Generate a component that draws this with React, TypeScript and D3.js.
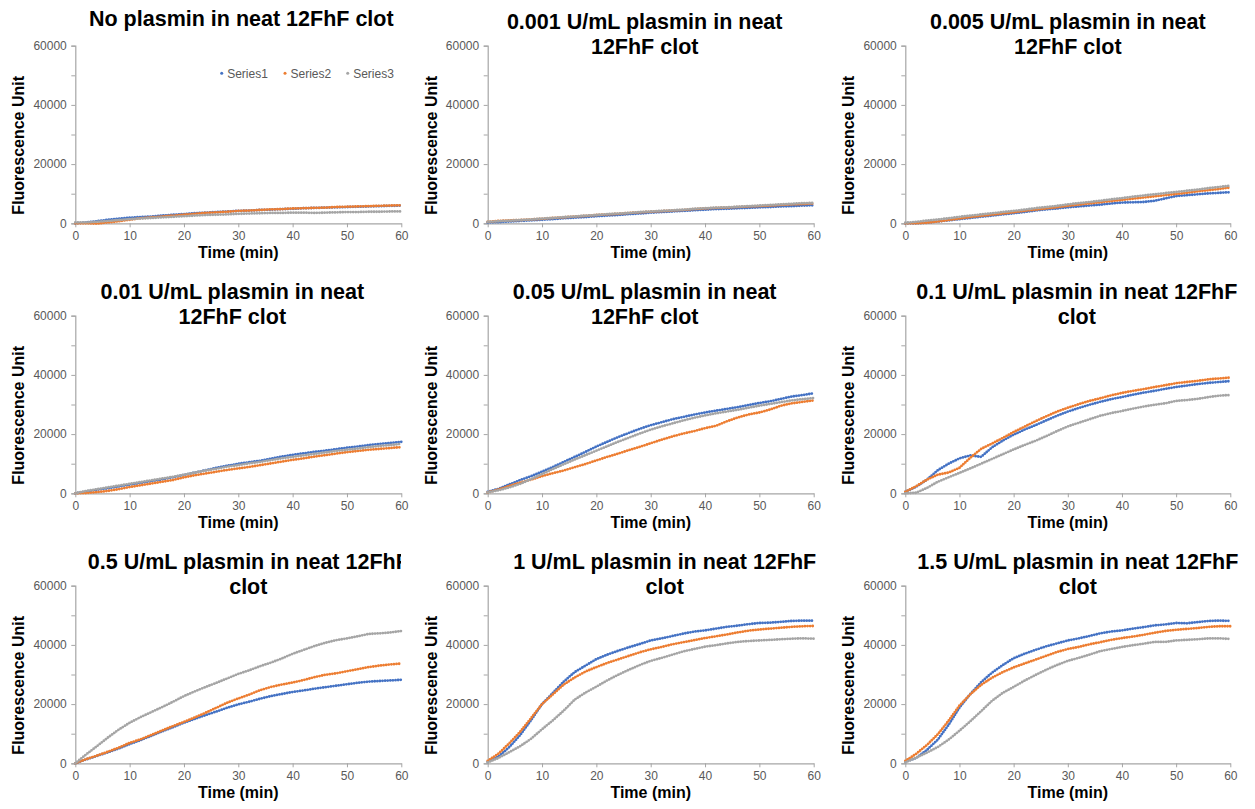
import React, { useEffect, useRef } from "react";
import * as d3 from "d3";

// sampling times (min)
const timeMin = [0, 2, 4, 6, 8, 10, 12, 14, 16, 18, 20, 22, 24, 26, 28, 30, 32, 34, 36, 38, 40, 42, 44, 46, 48, 50, 52, 54, 56, 58, 60];

const seriesNames = ["Series1", "Series2", "Series3"];
const seriesColors = ["#4472C4", "#ED7D31", "#A5A5A5"];
const xTicks = [0, 10, 20, 30, 40, 50, 60];
const yTicks = [0, 10000, 20000, 30000, 40000, 50000, 60000];
const yLabels = [0, 20000, 40000, 60000];

// fluorescence readings, [Series1, Series2, Series3] per condition
const noPlasmin = [
  [0, 300, 700, 1200, 1600, 1900, 2100, 2300, 2600, 2900, 3100, 3400, 3600, 3800, 4000, 4200, 4300, 4500, 4600, 4800, 4900, 5100, 5200, 5300, 5400, 5500, 5600, 5700, 5800, 5900, 6000],
  [0, 0, -100, 300, 700, 1200, 1700, 2000, 2300, 2600, 2900, 3200, 3500, 3700, 3900, 4200, 4300, 4500, 4700, 4800, 5000, 5100, 5200, 5300, 5500, 5600, 5700, 5800, 5900, 6000, 6100],
  [300, 300, 500, 800, 1100, 1400, 1600, 1800, 2000, 2200, 2400, 2600, 2800, 2900, 3000, 3200, 3300, 3400, 3500, 3500, 3600, 3600, 3500, 3600, 3700, 3800, 3800, 3900, 3900, 4000, 4000],
];
const plasmin0001 = [
  [300, 400, 600, 800, 1000, 1200, 1400, 1700, 1900, 2100, 2400, 2600, 2800, 3100, 3300, 3600, 3800, 4000, 4200, 4400, 4600, 4800, 4900, 5100, 5200, 5400, 5500, 5700, 5800, 6000, 6100],
  [500, 800, 1000, 1100, 1300, 1500, 1800, 2000, 2300, 2500, 2800, 3000, 3200, 3500, 3700, 3900, 4100, 4300, 4500, 4800, 5000, 5200, 5300, 5500, 5700, 5800, 6000, 6200, 6400, 6500, 6700],
  [500, 700, 900, 1100, 1300, 1600, 1800, 2100, 2300, 2600, 2800, 3100, 3300, 3500, 3800, 4000, 4200, 4400, 4600, 4900, 5100, 5300, 5400, 5600, 5800, 6000, 6200, 6400, 6600, 6800, 6900],
];
const plasmin0005 = [
  [0, 0, 200, 600, 1000, 1400, 1800, 2200, 2600, 3000, 3400, 3800, 4300, 4700, 5000, 5400, 5700, 6000, 6300, 6700, 7000, 7100, 7200, 7600, 8400, 9200, 9500, 9800, 10100, 10300, 10500],
  [0, 0, 200, 600, 1100, 1600, 2100, 2500, 2900, 3300, 3700, 4200, 4600, 5000, 5400, 5900, 6300, 6700, 7100, 7500, 7900, 8300, 8700, 9100, 9500, 9900, 10300, 10800, 11200, 11600, 12100],
  [200, 500, 900, 1300, 1700, 2200, 2600, 3000, 3400, 3800, 4200, 4600, 5100, 5500, 5900, 6400, 6800, 7200, 7600, 8100, 8500, 9000, 9400, 9800, 10200, 10600, 11000, 11400, 11900, 12300, 12700],
];
const plasmin001 = [
  [0, 600, 1200, 1700, 2300, 2900, 3500, 4100, 4700, 5400, 6200, 7000, 7800, 8600, 9300, 10000, 10500, 11000, 11700, 12400, 13000, 13500, 14000, 14400, 14900, 15400, 15800, 16300, 16700, 17000, 17400],
  [0, 100, 400, 800, 1400, 2100, 2700, 3300, 3900, 4500, 5400, 6100, 6700, 7300, 7900, 8400, 8900, 9500, 10100, 10700, 11300, 11800, 12400, 12900, 13400, 13900, 14300, 14700, 15000, 15300, 15600],
  [0, 800, 1400, 2000, 2600, 3200, 3800, 4400, 5000, 5600, 6300, 7000, 7700, 8300, 9000, 9500, 10100, 10600, 11200, 11800, 12300, 12800, 13300, 13800, 14300, 14700, 15100, 15600, 16000, 16300, 16700],
];
const plasmin005 = [
  [500, 1500, 3000, 4500, 5800, 7300, 8900, 10600, 12300, 14000, 15800, 17400, 19000, 20400, 21800, 23000, 24000, 25000, 25800, 26600, 27300, 27900, 28500, 29100, 29800, 30500, 31100, 31900, 32700, 33200, 33800],
  [300, 1300, 2500, 3600, 4600, 5800, 6800, 7700, 8800, 9900, 11100, 12300, 13400, 14600, 15700, 16900, 18100, 19200, 20200, 21000, 22000, 22800, 24300, 25600, 26600, 27300, 28300, 29600, 30400, 30900, 31400],
  [300, 1000, 2000, 3200, 4800, 6500, 8200, 9800, 11400, 12900, 14400, 15900, 17400, 18800, 20200, 21500, 22600, 23600, 24600, 25500, 26300, 27000, 27600, 28200, 28900, 29600, 30200, 30800, 31400, 31800, 32200],
];
const plasmin01 = [
  [500, 2200, 4600, 7800, 10000, 11800, 12800, 12300, 15500, 17800, 19800, 21500, 23000, 24600, 26200, 27600, 28800, 29900, 30900, 31800, 32500, 33300, 34000, 34600, 35300, 35900, 36400, 36900, 37300, 37600, 37900],
  [500, 2400, 4600, 6300, 7000, 8600, 12000, 15000, 16800, 18700, 20700, 22500, 24300, 26000, 27600, 28900, 30100, 31200, 32100, 33100, 33900, 34600, 35200, 35900, 36500, 37200, 37600, 38000, 38500, 38800, 39100],
  [0, 200, 1800, 3900, 5400, 6900, 8400, 10000, 11600, 13200, 14800, 16300, 17700, 19300, 21000, 22600, 23800, 25000, 26200, 27100, 27800, 28600, 29300, 29900, 30400, 31200, 31500, 31900, 32500, 33000, 33200],
];
const plasmin05 = [
  [0, 1300, 2500, 3700, 5000, 6500, 7800, 9300, 10800, 12200, 13700, 15000, 16300, 17500, 18800, 19900, 20800, 21800, 22700, 23400, 24100, 24600, 25200, 25700, 26200, 26700, 27200, 27600, 27800, 28000, 28200],
  [0, 1400, 2600, 3900, 5300, 6900, 8100, 9600, 11100, 12600, 14000, 15500, 17100, 18800, 20500, 21900, 23200, 24700, 25800, 26600, 27300, 28100, 29100, 29900, 30400, 31100, 31800, 32500, 33000, 33400, 33700],
  [0, 3000, 5800, 8700, 11400, 13700, 15600, 17300, 19000, 20800, 22700, 24300, 25800, 27200, 28700, 30200, 31400, 32800, 34000, 35400, 37000, 38300, 39600, 40700, 41600, 42200, 42900, 43700, 43900, 44200, 44700],
];
const plasmin1 = [
  [500, 2300, 5500, 9600, 14600, 20000, 23800, 27600, 30800, 33000, 35200, 36700, 38000, 39200, 40300, 41500, 42200, 43000, 43800, 44500, 44900, 45500, 46100, 46500, 47000, 47400, 47500, 47800, 48100, 48200, 48200],
  [800, 3300, 6800, 10700, 15300, 20000, 23300, 26600, 29000, 31000, 32500, 33900, 35100, 36300, 37500, 38500, 39300, 40200, 40900, 41600, 42300, 42900, 43500, 44200, 44800, 45200, 45500, 45800, 46100, 46300, 46400],
  [300, 1800, 3800, 5800, 8300, 11500, 14500, 17800, 21500, 23900, 25900, 28000, 29900, 31600, 33200, 34600, 35600, 36700, 37800, 38600, 39400, 39900, 40500, 41000, 41300, 41500, 41700, 41900, 42100, 42200, 42100],
];
const plasmin15 = [
  [500, 1800, 4500, 8000, 13000, 18800, 23400, 27400, 30600, 33200, 35500, 37000, 38300, 39500, 40500, 41500, 42200, 43000, 43900, 44500, 44900, 45500, 46000, 46600, 46900, 47400, 47300, 47700, 48100, 48200, 48100],
  [800, 3200, 6200, 9800, 14400, 19500, 23300, 26500, 28900, 30800, 32400, 33700, 35000, 36300, 37600, 38600, 39300, 40200, 40900, 41700, 42300, 42800, 43400, 44100, 44700, 45100, 45400, 45700, 46100, 46300, 46300],
  [300, 1900, 3600, 5500, 8000, 11000, 14200, 17600, 21100, 23800, 25800, 27900, 29800, 31600, 33200, 34600, 35600, 36700, 37900, 38600, 39300, 39900, 40400, 41000, 41000, 41500, 41700, 41900, 42200, 42200, 42000],
];

const panelData = [noPlasmin, plasmin0001, plasmin0005, plasmin001, plasmin005, plasmin01, plasmin05, plasmin1, plasmin15];

const panelTitles = [
  ["No plasmin in neat 12FhF clot"],
  ["0.001 U/mL plasmin in neat", "12FhF clot"],
  ["0.005 U/mL plasmin in neat", "12FhF clot"],
  ["0.01 U/mL plasmin in neat", "12FhF clot"],
  ["0.05 U/mL plasmin in neat", "12FhF clot"],
  ["0.1 U/mL plasmin in neat 12FhF", "clot"],
  ["0.5 U/mL plasmin in neat 12FhF", "clot"],
  ["1 U/mL plasmin in neat 12FhF", "clot"],
  ["1.5 U/mL plasmin in neat 12FhF", "clot"],
];

// layout (px)
const colX = [75.3, 487.7, 905.3];
const colW = [326, 326, 325];
const rowY = [45.7, 315.7, 585.7];
const plotH = 177.6;
const titleDx = [3, -6, 0, -6, -6, 9, 10, 14, 10];

const FONT = "'Liberation Sans', Arial, sans-serif";

const App = () => {
  const svgRef = useRef<SVGSVGElement>(null);

  useEffect(() => {
    const svg = d3.select(svgRef.current);
    svg.selectAll("*").remove();

    panelData.forEach((series, i) => {
      const col = i % 3;
      const row = Math.floor(i / 3);
      const x0 = colX[col];
      const y0 = rowY[row];
      const w = colW[col];

      const x = d3.scaleLinear().domain([0, 60]).range([x0, x0 + w]);
      const y = d3.scaleLinear().domain([0, 60000]).range([y0 + plotH, y0]);

      const g = svg.append("g");

      // axes
      const yAxis = d3.axisLeft(y).tickValues(yTicks).tickSize(4).tickFormat((d) => (yLabels.includes(+d) ? String(d) : ""));
      const yg = g.append("g").attr("transform", `translate(${x0},0)`).call(yAxis);
      yg.select(".domain").attr("stroke", "#a6a6a6").attr("stroke-width", 1.2);
      yg.selectAll(".tick line").attr("stroke", "#a6a6a6");
      yg.selectAll(".tick text").attr("fill", "#595959").attr("font-size", 12).attr("font-family", FONT).attr("x", -8.5);

      const xAxis = d3.axisBottom(x).tickValues(xTicks).tickSize(4).tickSizeOuter(0);
      const xg = g.append("g").attr("transform", `translate(0,${y0 + plotH})`).call(xAxis);
      xg.select(".domain").attr("stroke", "#a6a6a6").attr("stroke-width", 1.2);
      xg.selectAll(".tick line").attr("stroke", "#a6a6a6");
      xg.selectAll(".tick text").attr("fill", "#595959").attr("font-size", 12).attr("font-family", FONT).attr("y", 8);

      // series (dense dotted markers)
      const line = d3
        .line<number>()
        .x((_, k) => x(timeMin[k]))
        .y((d) => y(d));
      series.forEach((vals, s) => {
        g.append("path")
          .attr("d", line(vals))
          .attr("fill", "none")
          .attr("stroke", seriesColors[s])
          .attr("stroke-width", 2.8)
          .attr("stroke-linecap", "round")
          .attr("stroke-dasharray", "0 2.6");
      });

      // title
      const cx = x0 + w / 2 + titleDx[i];
      const top = y0 - 45.7;
      let clipId: string | null = null;
      if (i === 6) {
        clipId = "clipTitle6";
        svg
          .append("clipPath")
          .attr("id", clipId)
          .append("rect")
          .attr("x", 0)
          .attr("y", top)
          .attr("width", 401)
          .attr("height", 60);
      }
      const title = g
        .append("text")
        .attr("text-anchor", "middle")
        .attr("font-family", FONT)
        .attr("font-weight", "bold")
        .attr("font-size", 21.5)
        .attr("fill", "#000");
      if (clipId) title.attr("clip-path", `url(#${clipId})`);
      panelTitles[i].forEach((t, k) => {
        title
          .append("tspan")
          .attr("x", cx)
          .attr("y", top + (panelTitles[i].length === 1 ? 26 : 29 + k * 24.5))
          .text(t);
      });

      // axis titles
      g.append("text")
        .attr("transform", `translate(${x0 - 51},${y0 + plotH - 78}) rotate(-90)`)
        .attr("text-anchor", "middle")
        .attr("font-family", FONT)
        .attr("font-weight", "bold")
        .attr("font-size", 16)
        .attr("fill", "#000")
        .text("Fluorescence Unit");

      g.append("text")
        .attr("x", x0 + w / 2)
        .attr("y", y0 + plotH + 34.5)
        .attr("text-anchor", "middle")
        .attr("font-family", FONT)
        .attr("font-weight", "bold")
        .attr("font-size", 16)
        .attr("fill", "#000")
        .text("Time (min)");

      // legend only on first chart
      if (i === 0) {
        const lx = [221.7, 285, 347.7];
        seriesNames.forEach((name, s) => {
          g.append("circle").attr("cx", lx[s]).attr("cy", 73.3).attr("r", 1.5).attr("fill", seriesColors[s]);
          g.append("text")
            .attr("x", lx[s] + 5.5)
            .attr("y", 77.6)
            .attr("font-family", FONT)
            .attr("font-size", 12)
            .attr("fill", "#595959")
            .text(name);
        });
      }
    });
  }, []);

  return (
    <svg
      ref={svgRef}
      width={1255}
      height={809}
      style={{ position: "absolute", left: 0, top: 0, background: "#fff" }}
    />
  );
};

export default App;
